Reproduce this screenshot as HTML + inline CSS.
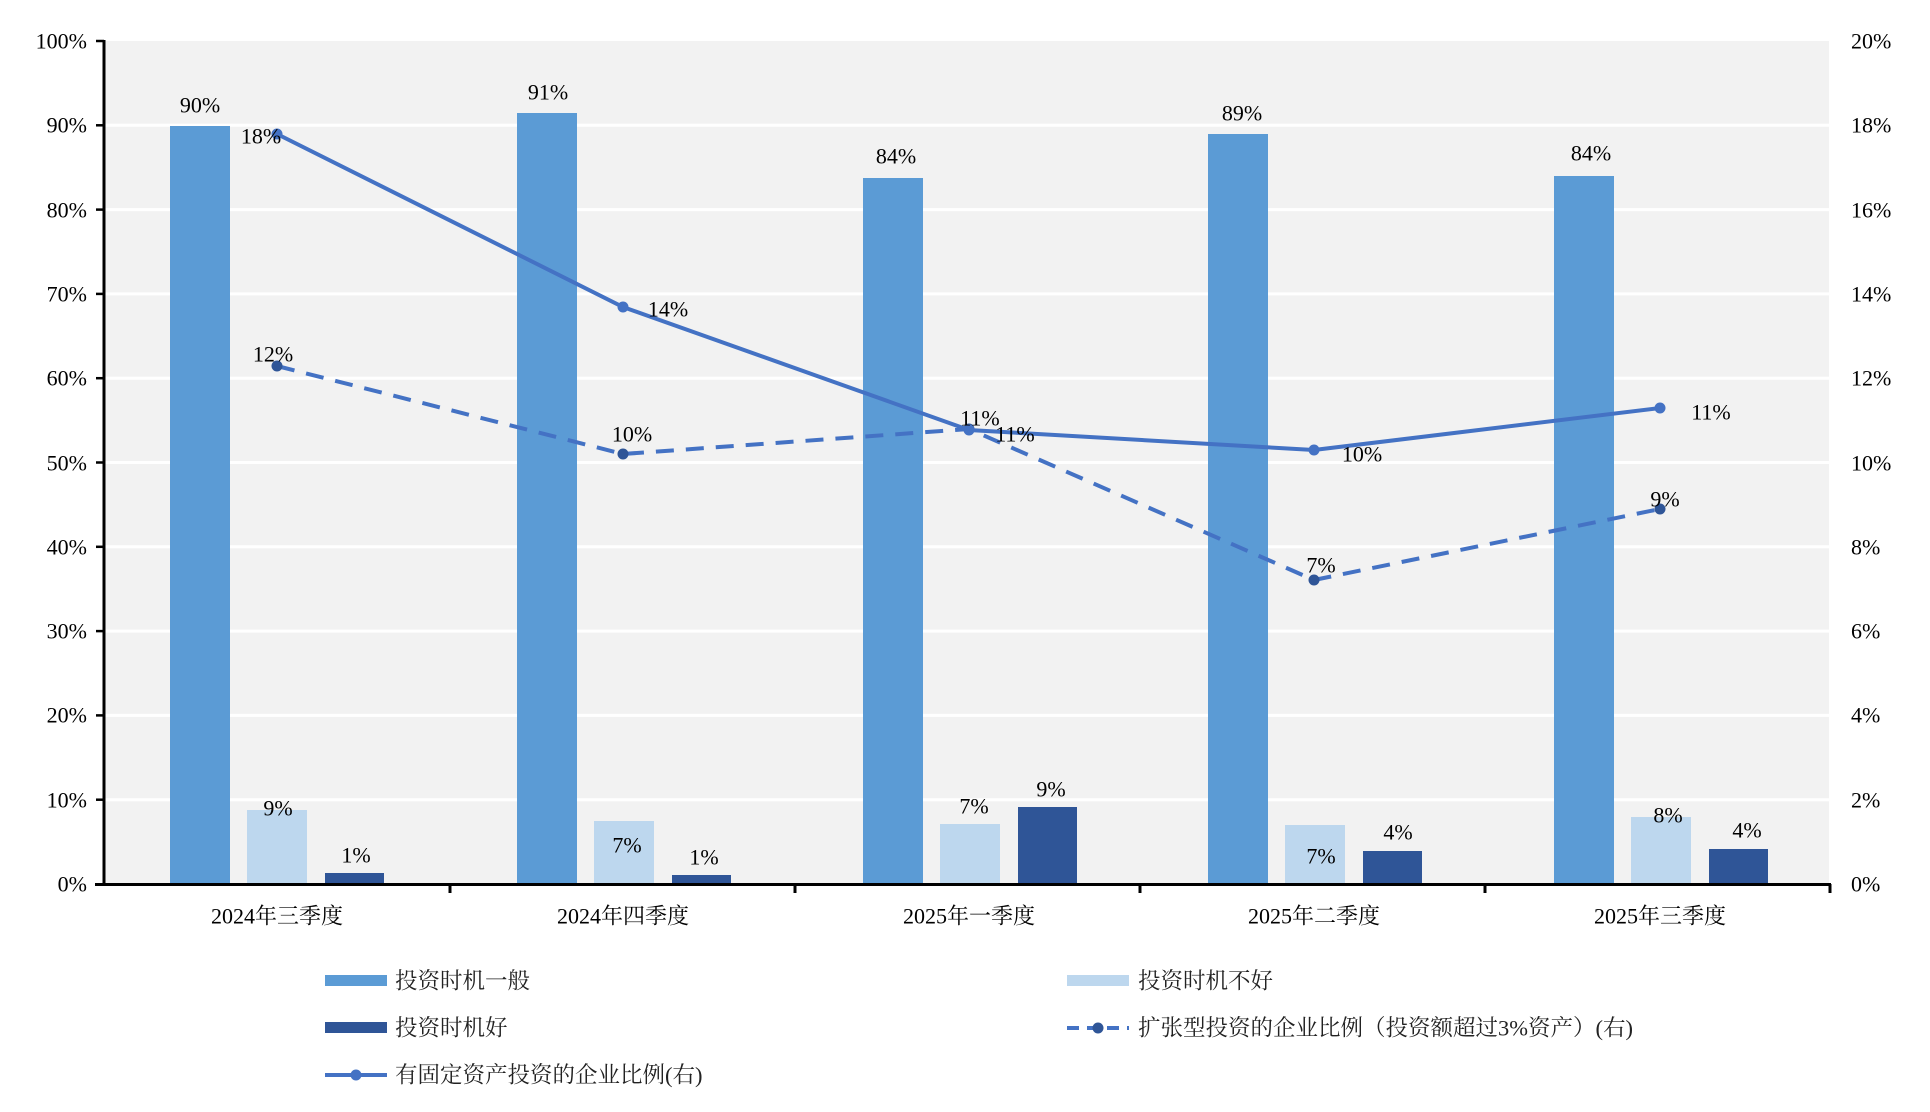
<!DOCTYPE html>
<html><head><meta charset="utf-8"><style>
body{margin:0;background:#fff}
svg{display:block;font-family:"Liberation Serif","Noto Serif CJK SC",serif}
</style></head><body>
<svg width="1930" height="1112" viewBox="0 0 1930 1112" xmlns="http://www.w3.org/2000/svg">
<rect x="105" y="41" width="1724" height="843" fill="#F2F2F2"/>
<g stroke="#fff" stroke-width="3">
<line x1="105" x2="1829" y1="125.3" y2="125.3"/><line x1="105" x2="1829" y1="209.6" y2="209.6"/>
<line x1="105" x2="1829" y1="293.9" y2="293.9"/><line x1="105" x2="1829" y1="378.2" y2="378.2"/>
<line x1="105" x2="1829" y1="462.5" y2="462.5"/><line x1="105" x2="1829" y1="546.8" y2="546.8"/>
<line x1="105" x2="1829" y1="631.1" y2="631.1"/><line x1="105" x2="1829" y1="715.4" y2="715.4"/>
<line x1="105" x2="1829" y1="799.7" y2="799.7"/>
</g>
<g>
<rect x="170" y="126" width="60" height="758" fill="#5B9BD5"/><rect x="247" y="810" width="60" height="74" fill="#BDD7EE"/><rect x="325" y="873" width="59" height="11" fill="#2F5597"/>
<rect x="517" y="113" width="60" height="771" fill="#5B9BD5"/><rect x="594" y="821" width="60" height="63" fill="#BDD7EE"/><rect x="672" y="875" width="59" height="9" fill="#2F5597"/>
<rect x="863" y="178" width="60" height="706" fill="#5B9BD5"/><rect x="940" y="824" width="60" height="60" fill="#BDD7EE"/><rect x="1018" y="807" width="59" height="77" fill="#2F5597"/>
<rect x="1208" y="134" width="60" height="750" fill="#5B9BD5"/><rect x="1285" y="825" width="60" height="59" fill="#BDD7EE"/><rect x="1363" y="851" width="59" height="33" fill="#2F5597"/>
<rect x="1554" y="176" width="60" height="708" fill="#5B9BD5"/><rect x="1631" y="817" width="60" height="67" fill="#BDD7EE"/><rect x="1709" y="849" width="59" height="35" fill="#2F5597"/>
</g>
<g stroke="#000" stroke-width="3" fill="none">
<line x1="104" y1="40" x2="104" y2="886"/>
<line x1="95" y1="884.5" x2="1831" y2="884.5"/>
<line x1="1830" y1="884" x2="1830" y2="893"/>
<line x1="450" y1="884" x2="450" y2="893"/><line x1="795" y1="884" x2="795" y2="893"/>
<line x1="1140" y1="884" x2="1140" y2="893"/><line x1="1485" y1="884" x2="1485" y2="893"/>
</g>
<g stroke="#000" stroke-width="2.5">
<line x1="96" x2="104" y1="41" y2="41"/><line x1="96" x2="104" y1="125.3" y2="125.3"/><line x1="96" x2="104" y1="209.6" y2="209.6"/>
<line x1="96" x2="104" y1="293.9" y2="293.9"/><line x1="96" x2="104" y1="378.2" y2="378.2"/><line x1="96" x2="104" y1="462.5" y2="462.5"/>
<line x1="96" x2="104" y1="546.8" y2="546.8"/><line x1="96" x2="104" y1="631.1" y2="631.1"/><line x1="96" x2="104" y1="715.4" y2="715.4"/>
<line x1="96" x2="104" y1="799.7" y2="799.7"/>
</g>
<g font-size="22" text-anchor="end" dominant-baseline="central" fill="#000">
<text x="87" y="41">100%</text><text x="87" y="125">90%</text><text x="87" y="210">80%</text><text x="87" y="294">70%</text>
<text x="87" y="378">60%</text><text x="87" y="463">50%</text><text x="87" y="547">40%</text><text x="87" y="631">30%</text>
<text x="87" y="715">20%</text><text x="87" y="800">10%</text><text x="87" y="884">0%</text>
</g>
<g font-size="22" text-anchor="start" dominant-baseline="central" fill="#000">
<text x="1851" y="41">20%</text><text x="1851" y="125">18%</text><text x="1851" y="210">16%</text><text x="1851" y="294">14%</text>
<text x="1851" y="378">12%</text><text x="1851" y="463">10%</text><text x="1851" y="547">8%</text><text x="1851" y="631">6%</text>
<text x="1851" y="715">4%</text><text x="1851" y="800">2%</text><text x="1851" y="884">0%</text>
</g>
<g font-size="22" text-anchor="middle" dominant-baseline="central" fill="#000">
<text x="277" y="916">2024年三季度</text><text x="623" y="916">2024年四季度</text><text x="969" y="916">2025年一季度</text>
<text x="1314" y="916">2025年二季度</text><text x="1660" y="916">2025年三季度</text>
</g>
<polyline points="277,366 623,454 969,429 1314,580 1660,509" fill="none" stroke="#4472C4" stroke-width="4" stroke-dasharray="18,12"/>
<g fill="#2F5597"><circle cx="277" cy="366" r="5.5"/><circle cx="623" cy="454" r="5.5"/><circle cx="969" cy="429" r="5.5"/><circle cx="1314" cy="580" r="5.5"/><circle cx="1660" cy="509" r="5.5"/></g>
<polyline points="277,134 623,307 969,430 1314,450 1660,408" fill="none" stroke="#4472C4" stroke-width="4"/>
<g fill="#4472C4"><circle cx="277" cy="134" r="5.5"/><circle cx="623" cy="307" r="5.5"/><circle cx="969" cy="430" r="5.5"/><circle cx="1314" cy="450" r="5.5"/><circle cx="1660" cy="408" r="5.5"/></g>
<g font-size="22" text-anchor="middle" dominant-baseline="central" fill="#000">
<text x="200" y="105">90%</text><text x="278" y="808">9%</text><text x="356" y="855">1%</text>
<text x="548" y="92">91%</text><text x="627" y="845">7%</text><text x="704" y="857">1%</text>
<text x="896" y="156">84%</text><text x="974" y="806">7%</text><text x="1051" y="789">9%</text>
<text x="1242" y="113">89%</text><text x="1321" y="856">7%</text><text x="1398" y="832">4%</text>
<text x="1591" y="153">84%</text><text x="1668" y="815">8%</text><text x="1747" y="830">4%</text>
<text x="261" y="136">18%</text><text x="668" y="309">14%</text><text x="980" y="418">11%</text><text x="1015" y="434">11%</text>
<text x="1362" y="454">10%</text><text x="1711" y="412">11%</text>
<text x="273" y="354">12%</text><text x="632" y="434">10%</text><text x="1321" y="565">7%</text><text x="1665" y="499">9%</text>
</g>
<rect x="325" y="975" width="62" height="11" fill="#5B9BD5"/>
<rect x="1067" y="975" width="62" height="11" fill="#BDD7EE"/>
<rect x="325" y="1022" width="62" height="11" fill="#2F5597"/>
<line x1="1067" y1="1028" x2="1129" y2="1028" stroke="#4472C4" stroke-width="4" stroke-dasharray="12,8"/>
<circle cx="1098" cy="1028" r="5.5" fill="#2F5597"/>
<line x1="325" y1="1075" x2="387" y2="1075" stroke="#4472C4" stroke-width="4"/>
<circle cx="356" cy="1075" r="5.5" fill="#4472C4"/>
<g font-size="22.5" dominant-baseline="central" fill="#222">
<text x="395" y="981">投资时机一般</text>
<text x="1138" y="981">投资时机不好</text>
<text x="395" y="1028">投资时机好</text>
<text x="1138" y="1028">扩张型投资的企业比例（投资额超过3%资产）(右)</text>
<text x="395" y="1075">有固定资产投资的企业比例(右)</text>
</g>
</svg>
</body></html>
